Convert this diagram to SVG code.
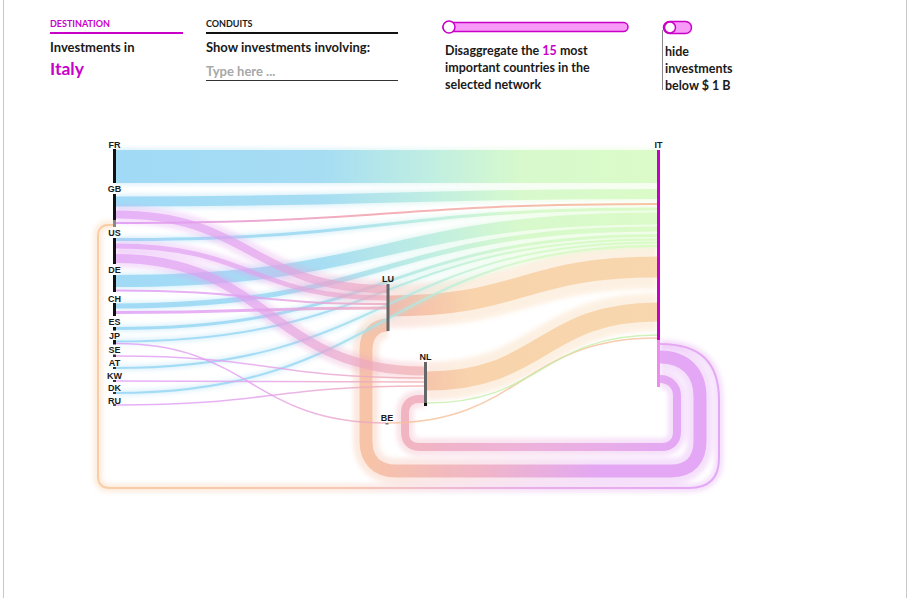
<svg xmlns="http://www.w3.org/2000/svg" xmlns:xlink="http://www.w3.org/1999/xlink" width="911" height="598" viewBox="0 0 911 598">
<style>
.lbl{font-family:"Liberation Sans",Arial,sans-serif;font-weight:700;font-size:9px;fill:#1a1a1a;text-anchor:middle}
.hd{font-family:Lato,"Open Sans",sans-serif;font-weight:700;fill:#1a1a1a}
.h{fill:none;opacity:.3;filter:url(#blur)}
.c{fill:none;opacity:.8;filter:url(#soft)}
.m{opacity:.65}
</style>
<defs>
<filter id="blur" filterUnits="userSpaceOnUse" x="0" y="0" width="911" height="598"><feGaussianBlur stdDeviation="2"/></filter>
<filter id="soft" filterUnits="userSpaceOnUse" x="0" y="0" width="911" height="598"><feGaussianBlur stdDeviation="0.6"/></filter>
<linearGradient id="gD" gradientUnits="userSpaceOnUse" x1="116" y1="0" x2="657" y2="0"><stop offset="0" stop-color="#93d5f5"/><stop offset="0.38" stop-color="#98d8f2"/><stop offset="0.58" stop-color="#b6ecde"/><stop offset="0.75" stop-color="#d2f9c4"/><stop offset="1" stop-color="#d6fbc0"/></linearGradient>
<linearGradient id="gT" gradientUnits="userSpaceOnUse" x1="116" y1="0" x2="657" y2="0"><stop offset="0" stop-color="#dc90f6"/><stop offset="0.45" stop-color="#f09aa8"/><stop offset="1" stop-color="#f7b88e"/></linearGradient>
<linearGradient id="gS" gradientUnits="userSpaceOnUse" x1="116" y1="0" x2="425" y2="0"><stop offset="0" stop-color="#e09cf6"/><stop offset="0.45" stop-color="#e3a0ee"/><stop offset="1" stop-color="#f2acaa"/></linearGradient>
<linearGradient id="gC" gradientUnits="userSpaceOnUse" x1="388" y1="0" x2="657" y2="0"><stop offset="0" stop-color="#f3ad9f"/><stop offset="0.3" stop-color="#f8cd9f"/><stop offset="1" stop-color="#f8d1a2"/></linearGradient>
<linearGradient id="gLU" gradientUnits="userSpaceOnUse" x1="366" y1="0" x2="700" y2="0"><stop offset="0" stop-color="#f6bb9a"/><stop offset="0.35" stop-color="#eeaac0"/><stop offset="0.7" stop-color="#df9af2"/><stop offset="1" stop-color="#df9af4"/></linearGradient>
<linearGradient id="gNL" gradientUnits="userSpaceOnUse" x1="405" y1="0" x2="680" y2="0"><stop offset="0" stop-color="#f0aab8"/><stop offset="0.45" stop-color="#eba6d6"/><stop offset="1" stop-color="#df9af4"/></linearGradient>
<linearGradient id="gLT" gradientUnits="userSpaceOnUse" x1="98" y1="0" x2="719" y2="0"><stop offset="0" stop-color="#f9c596"/><stop offset="0.4" stop-color="#f5bfa6"/><stop offset="0.7" stop-color="#e6a0e6"/><stop offset="1" stop-color="#df9af4"/></linearGradient>
<path id="pFR" d="M116 166.5 L657 166.5"/>
<path id="pGB" d="M116 201.5 C386.5 201.5 386.5 194 657 194"/>
<path id="pUS" d="M116 239.5 C386.5 239.5 386.5 209 657 209"/>
<path id="pDE" d="M116 281 C386.5 281 386.5 218.5 657 218.5"/>
<path id="pCH" d="M116 306 C386.5 306 386.5 229 657 229"/>
<path id="pES" d="M116 328.5 C386.5 328.5 386.5 235.5 657 235.5"/>
<path id="pJP" d="M116 341.5 C386.5 341.5 386.5 239.5 657 239.5"/>
<path id="pAT" d="M116 368 C386.5 368 386.5 242.5 657 242.5"/>
<path id="pDK" d="M116 393 C386.5 393 386.5 246 657 246"/>
<path id="pGBt" d="M116 223 C386.5 223 386.5 204 657 204"/>
<path id="sGBLU" d="M116 214.5 C251.5 214.5 251.5 289 387 289"/>
<path id="sUSLU" d="M116 246 C251.5 246 251.5 298 387 298"/>
<path id="sDELU" d="M116 290.5 C251.5 290.5 251.5 304 387 304"/>
<path id="sCHLU" d="M116 312.5 C251.5 312.5 251.5 308 387 308"/>
<path id="sUSNL" d="M116 258.5 C270 258.5 270 371 424 371"/>
<path id="sSENL" d="M116 356 C270 356 270 378 424 378"/>
<path id="sKWNL" d="M116 381 C270 381 270 382 424 382"/>
<path id="sRUNL" d="M116 405 C270 405 270 386 424 386"/>
<path id="sJPBE" d="M116 343.5 C251 343.5 251 423 386 423"/>
<path id="cLU" d="M389 306 C523 306 523 267 657 267"/>
<path id="cNL" d="M427 381 C542 381 542 312 657 312"/>
<path id="cBE" d="M387 423 C522 423 522 338 657 338"/>
<path id="cNLg" d="M427 403 C542 403 542 335 657 335"/>
<path id="lLU" d="M660 357 C685 357 700 372 700 397 L700 441 C700 460 690 471 671 471 L396 471 C377 471 366 460 366 441 L366 350 C366 334 375 325 388 325"/>
<path id="lNL" d="M660 379 C670 379 677 386 677 396 L677 432 C677 441 671 447 662 447 L419 447 C410 447 405 441 405 432 L405 412 C405 404 411 399 419 399 L425 399"/>
<path id="lT" d="M660 344 C700 344 719 362 719 400 L719 458 C719 478 709 488 689 488 L110 488 C102 488 98 484 98 476 L98 236 C98 229 102 225 108 225 L114 225"/>
</defs>

<rect x="0" y="0" width="911" height="598" fill="#ffffff"/>
<line x1="3.5" y1="0" x2="3.5" y2="598" stroke="#c8c8c8" stroke-width="1"/>
<line x1="906.5" y1="0" x2="906.5" y2="598" stroke="#c8c8c8" stroke-width="1"/>

<g id="controls">
<text class="hd" x="50" y="27" font-size="9" style="fill:#c800c8">DESTINATION</text>
<line x1="50" y1="33" x2="183" y2="33" stroke="#c800c8" stroke-width="2.2"/>
<text class="hd" x="50" y="52" font-size="13">Investments in</text>
<text class="hd" x="50" y="75" font-size="17.5" style="fill:#c800c8">Italy</text>
<text class="hd" x="206" y="27" font-size="9">CONDUITS</text>
<line x1="206" y1="33" x2="398" y2="33" stroke="#111" stroke-width="2.2"/>
<text class="hd" x="206" y="52" font-size="13">Show investments involving:</text>
<text class="hd" x="206" y="76" font-size="13" style="fill:#a8a8a8">Type here ...</text>
<line x1="206" y1="80.5" x2="398" y2="80.5" stroke="#333" stroke-width="1"/>
<rect x="443" y="22.5" width="185" height="9" rx="4.5" fill="#f89af8" stroke="#c800c8" stroke-width="1.5"/>
<circle cx="449" cy="27" r="6" fill="#fff" stroke="#c800c8" stroke-width="1.5"/>
<text class="hd" x="445" y="55" font-size="12.5">Disaggregate the <tspan style="fill:#c800c8">15</tspan> most</text>
<text class="hd" x="445" y="72" font-size="12.5">important countries in the</text>
<text class="hd" x="445" y="89" font-size="12.5">selected network</text>
<rect x="663.5" y="21.5" width="28" height="12" rx="6" fill="#f89af8" stroke="#c800c8" stroke-width="1.5"/>
<circle cx="670" cy="27.5" r="5.5" fill="#fff" stroke="#c800c8" stroke-width="1.5"/>
<line x1="662.5" y1="30" x2="662.5" y2="90" stroke="#888" stroke-width="1"/>
<text class="hd" x="665" y="56" font-size="12.5">hide</text>
<text class="hd" x="665" y="73" font-size="12.5">investments</text>
<text class="hd" x="665" y="90" font-size="12.5">below $ 1 B</text>
</g>

<g id="connectors">
<use href="#lT" class="h" stroke="url(#gLT)" stroke-width="9"/>
<use href="#lLU" class="h" stroke="url(#gLU)" stroke-width="26"/>
<use href="#lNL" class="h" stroke="url(#gNL)" stroke-width="18"/>
<use href="#lT" class="c" stroke="url(#gLT)" stroke-width="2"/>
<use href="#lLU" class="c" stroke="url(#gLU)" stroke-width="13"/>
<use href="#lNL" class="c" stroke="url(#gNL)" stroke-width="8"/>

<use href="#cLU" class="h" stroke="url(#gC)" stroke-width="44"/>
<use href="#cNL" class="h" stroke="url(#gC)" stroke-width="38"/>
<use href="#cLU" class="c" stroke="url(#gC)" stroke-width="21"/>
<use href="#cNL" class="c" stroke="url(#gC)" stroke-width="19"/>
<use href="#cBE" class="c" stroke="#f7c09a" stroke-width="1.5"/>
<use href="#cNLg" class="c" stroke="#c4efac" stroke-width="1.5"/>

<use href="#pFR" class="h" stroke="url(#gD)" stroke-width="37"/>
<use href="#pGB" class="h" stroke="url(#gD)" stroke-width="15"/>
<use href="#pUS" class="h" stroke="url(#gD)" stroke-width="7"/>
<use href="#pDE" class="h" stroke="url(#gD)" stroke-width="17"/>
<use href="#pCH" class="h" stroke="url(#gD)" stroke-width="9"/>
<use href="#pES" class="h" stroke="url(#gD)" stroke-width="7"/>
<use href="#pJP" class="h" stroke="url(#gD)" stroke-width="6"/>
<use href="#pAT" class="h" stroke="url(#gD)" stroke-width="6"/>
<use href="#pDK" class="h" stroke="url(#gD)" stroke-width="6"/>
<use href="#pFR" class="c" stroke="url(#gD)" stroke-width="33"/>
<use href="#pGB" class="c" stroke="url(#gD)" stroke-width="10"/>
<use href="#pUS" class="c" stroke="url(#gD)" stroke-width="3"/>
<use href="#pDE" class="c" stroke="url(#gD)" stroke-width="12"/>
<use href="#pCH" class="c" stroke="url(#gD)" stroke-width="5"/>
<use href="#pES" class="c" stroke="url(#gD)" stroke-width="3"/>
<use href="#pJP" class="c" stroke="url(#gD)" stroke-width="2"/>
<use href="#pAT" class="c" stroke="url(#gD)" stroke-width="2"/>
<use href="#pDK" class="c" stroke="url(#gD)" stroke-width="2"/>
<use href="#pGBt" class="c" stroke="url(#gT)" stroke-width="2"/>

<use href="#sGBLU" class="h" stroke="url(#gS)" stroke-width="18"/>
<use href="#sUSLU" class="h" stroke="url(#gS)" stroke-width="13"/>
<use href="#sUSNL" class="h" stroke="url(#gS)" stroke-width="18"/>
<use href="#sGBLU" class="c m" stroke="url(#gS)" stroke-width="8"/>
<use href="#sUSLU" class="c m" stroke="url(#gS)" stroke-width="5"/>
<use href="#sDELU" class="c" stroke="url(#gS)" stroke-width="2"/>
<use href="#sCHLU" class="c" stroke="url(#gS)" stroke-width="3"/>
<use href="#sUSNL" class="c m" stroke="url(#gS)" stroke-width="9"/>
<use href="#sSENL" class="c" stroke="url(#gS)" stroke-width="1.5"/>
<use href="#sKWNL" class="c" stroke="url(#gS)" stroke-width="1.5"/>
<use href="#sRUNL" class="c" stroke="url(#gS)" stroke-width="1.5"/>
<use href="#sJPBE" class="c" stroke="url(#gS)" stroke-width="1.5"/>
</g>

<g id="node-FR"><rect x="113" y="149" width="3" height="34" fill="#111"/><text class="lbl" x="114.5" y="148">FR</text></g>
<g id="node-GB"><rect x="113" y="194" width="3" height="26" fill="#111"/><rect x="113" y="220" width="3" height="7" fill="#888"/><text class="lbl" x="114.5" y="192">GB</text></g>
<g id="node-US"><rect x="113" y="238" width="3" height="26" fill="#111"/><text class="lbl" x="114.5" y="236">US</text></g>
<g id="node-DE"><rect x="113" y="275" width="3" height="17" fill="#111"/><text class="lbl" x="114.5" y="273">DE</text></g>
<g id="node-CH"><rect x="113" y="303" width="3" height="13" fill="#111"/><text class="lbl" x="114.5" y="302">CH</text></g>
<g id="node-ES"><rect x="113" y="327" width="3" height="3.5" fill="#111"/><text class="lbl" x="114.5" y="325">ES</text></g>
<g id="node-JP"><rect x="113" y="340" width="3" height="4.5" fill="#111"/><text class="lbl" x="114.5" y="339">JP</text></g>
<g id="node-SE"><rect x="113" y="354.5" width="3" height="2.5" fill="#333"/><text class="lbl" x="114.5" y="353">SE</text></g>
<g id="node-AT"><rect x="113" y="367" width="3" height="2" fill="#333"/><text class="lbl" x="114.5" y="366">AT</text></g>
<g id="node-KW"><rect x="113" y="380" width="3" height="2" fill="#333"/><text class="lbl" x="114.5" y="379">KW</text></g>
<g id="node-DK"><rect x="113" y="392" width="3" height="2" fill="#333"/><text class="lbl" x="114.5" y="391">DK</text></g>
<g id="node-RU"><rect x="113" y="404" width="3" height="2" fill="#555"/><text class="lbl" x="114.5" y="404">RU</text></g>
<g id="node-LU"><rect x="386.5" y="284" width="3" height="47" fill="#666"/><text class="lbl" x="388" y="282">LU</text></g>
<g id="node-NL"><rect x="424" y="362" width="3" height="41" fill="#666"/><rect x="424" y="403" width="3" height="3" fill="#111"/><text class="lbl" x="425.5" y="360">NL</text></g>
<g id="node-BE"><rect x="385.5" y="423" width="3" height="1.5" fill="#777"/><text class="lbl" x="387" y="421">BE</text></g>
<g id="node-IT"><rect x="657" y="150" width="3" height="190" fill="#c800c8"/><rect x="657" y="340" width="3" height="47" fill="#f08af0"/><text class="lbl" x="658.5" y="148">IT</text></g>
</svg>
